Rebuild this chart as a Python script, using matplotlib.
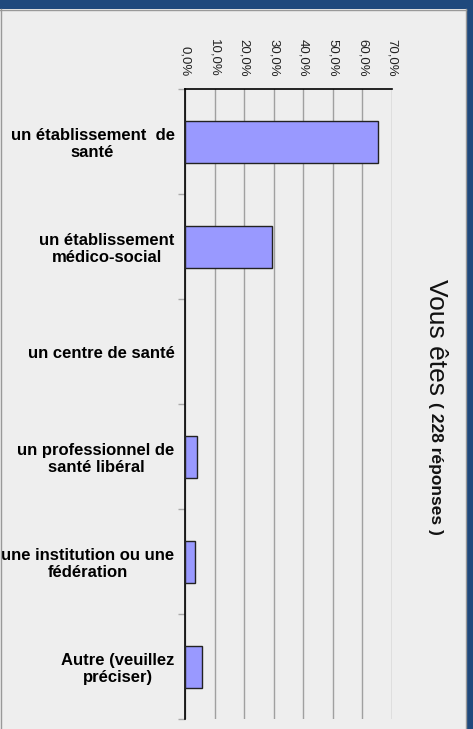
import matplotlib.pyplot as plt
from matplotlib.patches import Rectangle
from matplotlib.ticker import FixedLocator

categories = ["un établissement  de\nsanté",
              "un établissement\nmédico-social",
              "un centre de santé",
              "un professionnel de\nsanté libéral",
              "une institution ou une\nfédération",
              "Autre (veuillez\npréciser)"]
values = [65.4, 29.4, 0.0, 4.2, 3.4, 5.9]
ticks = [0, 10, 20, 30, 40, 50, 60, 70]
tick_labels = ["0,0%", "10,0%", "20,0%", "30,0%", "40,0%", "50,0%", "60,0%", "70,0%"]

W, H = 473, 729
bg = "#eeeeee"
blue = "#1f497d"

fig = plt.figure(figsize=(W / 100, H / 100), dpi=100)
fig.patch.set_facecolor(bg)
plt.rcParams['font.family'] = ['Liberation Sans', 'DejaVu Sans']

# frame: blue band on top and right, grey edge lines
fig.patches.append(Rectangle((0, 1 - 9 / H), 1, 9 / H, transform=fig.transFigure,
                             facecolor=blue, edgecolor="none", zorder=0))
fig.patches.append(Rectangle((467 / W, 0), 6 / W, 1, transform=fig.transFigure,
                             facecolor=blue, edgecolor="none", zorder=0))
fig.add_artist(plt.Line2D([0.5 / W, 0.5 / W], [0, 1 - 9 / H], color="#999999", lw=1))
fig.add_artist(plt.Line2D([466 / W, 466 / W], [0, 1 - 9 / H], color="#999999", lw=1))
fig.add_artist(plt.Line2D([0, 466 / W], [1 - 9.5 / H, 1 - 9.5 / H], color="#999999", lw=1))

left, right, top, bottom = 185, 392, 89, 719
ax = fig.add_axes([left / W, 1 - bottom / H, (right - left) / W, (bottom - top) / H])
ax.set_facecolor(bg)

n = len(categories)
pos = list(range(n))
lw = [1 if v > 0 else 0 for v in values]
ax.barh(pos, values, height=0.4, color="#9999ff", edgecolor="#222222", linewidth=lw, zorder=3)

ax.set_xlim(0, 70)
ax.set_ylim(n - 0.5, -0.5)

ax.xaxis.tick_top()
ax.set_xticks(ticks)
ax.set_xticklabels(tick_labels, rotation=270, fontsize=9.5, color="#222222", va="bottom")
ax.tick_params(axis="x", length=0, pad=9)
ax.grid(axis="x", color="#a0a0a0", lw=1, zorder=1)

ax.set_yticks(pos)
ax.set_yticklabels(categories, fontsize=12, fontweight="bold", ha="right",
                   multialignment="center")
ax.tick_params(axis="y", which="major", length=0, pad=7.5)
ax.yaxis.set_minor_locator(FixedLocator([i - 0.5 for i in range(n + 1)]))
ax.tick_params(axis="y", which="minor", length=5, color="#aaaaaa", width=1)

for s in ["right", "bottom"]:
    ax.spines[s].set_visible(False)
ax.spines["top"].set_color("black")
ax.spines["left"].set_color("black")
ax.spines["top"].set_linewidth(1.2)
ax.spines["left"].set_linewidth(1.2)

fig.text(436 / W, 1 - 279 / H, "Vous êtes", rotation=270, fontsize=19,
         ha="center", va="top", color="#111111")
fig.text(435 / W, 1 - 402 / H, "( 228 réponses )", rotation=270, fontsize=12.5,
         fontweight="bold", ha="center", va="top", color="#111111")

fig.savefig("out.png", dpi=100, facecolor=bg)
